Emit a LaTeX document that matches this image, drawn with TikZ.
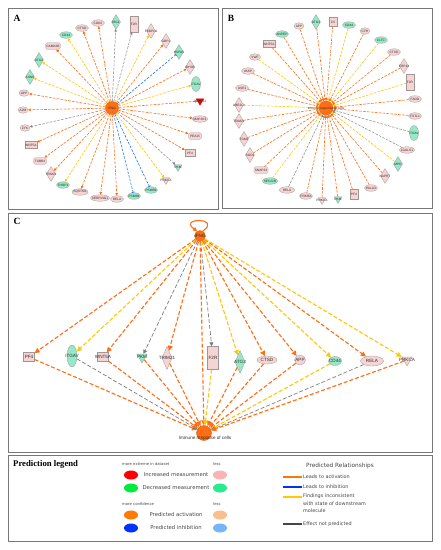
\documentclass[tikz,border=0pt]{standalone}
\usepackage{fontspec}
\setmainfont{Liberation Serif}
\newfontfamily\labf{Liberation Sans}
\newfontfamily\legf{DejaVu Sans}
\usetikzlibrary{shapes.geometric,arrows.meta}
\definecolor{pkf}{RGB}{247,212,212}
\definecolor{grf}{RGB}{150,232,198}
\definecolor{nbd}{RGB}{160,150,150}
\definecolor{orc}{RGB}{255,110,20}
\definecolor{yec}{RGB}{255,200,0}
\definecolor{blc}{RGB}{30,120,240}
\definecolor{gyc}{RGB}{125,125,125}
\definecolor{txc}{RGB}{45,45,45}
\definecolor{boxc}{RGB}{120,120,120}
\definecolor{lgred}{RGB}{255,0,0}
\definecolor{lggreen}{RGB}{0,235,60}
\definecolor{lgpink}{RGB}{250,180,180}
\definecolor{lgmint}{RGB}{40,235,140}
\definecolor{lgor}{RGB}{255,120,0}
\definecolor{lgblue}{RGB}{0,50,250}
\definecolor{lglor}{RGB}{252,190,140}
\definecolor{lglbl}{RGB}{120,180,250}
\definecolor{lgdk}{RGB}{70,70,70}
\tikzset{
 lb/.style={font=\labf\fontsize{3.2}{3.4}\selectfont, text=txc, inner sep=0pt},
 L/.style={label={[lb]center:#1}},
 nd/.style={draw=nbd, line width=0.3pt, inner sep=0pt},
 pk/.style={fill=pkf}, gr/.style={fill=grf},
 el/.style={nd, ellipse, minimum width=13, minimum height=6.5},
 tel/.style={nd, ellipse, minimum width=9, minimum height=15},
 dm/.style={nd, diamond, minimum width=9, minimum height=15},
 rc/.style={nd, rectangle, minimum width=8, minimum height=16},
 sq/.style={nd, rectangle, minimum width=10, minimum height=7},
 rr/.style={nd, rectangle, rounded corners=1.5pt, minimum width=13, minimum height=6.5},
 kn/.style={nd, regular polygon, regular polygon sides=3, shape border rotate=180, minimum size=9},
 ph/.style={nd, regular polygon, regular polygon sides=3, shape border rotate=180, minimum size=8.5, fill=lgred, draw=red!70!black},
 ctr/.style={circle, fill=orc, draw=orc!85!black, line width=0.4pt, inner sep=0pt},
 ed/.style={dash pattern=on 2.6pt off 1.3pt, line width=0.6pt},
 eo/.style={ed, draw=orc, -{Triangle[length=2.6pt,width=2.6pt]}},
 ey/.style={ed, draw=yec, -{Triangle[length=2.6pt,width=2.6pt]}},
 eg/.style={ed, draw=gyc, line width=0.45pt, -{Triangle[length=2.4pt,width=2.4pt]}},
 eb/.style={ed, draw=blc, -{Bar[width=3pt,line width=0.7pt]}},
 cd/.style={dash pattern=on 4pt off 2pt, line width=1.1pt},
 co/.style={cd, draw=orc, -{Triangle[length=5pt,width=5pt]}},
 cy/.style={cd, draw=yec, -{Triangle[length=5pt,width=5pt]}},
 cg/.style={cd, draw=gyc, line width=0.7pt, -{Triangle[length=4pt,width=4pt]}},
 panel/.style={draw=boxc, line width=1pt},
 plet/.style={font=\bfseries\fontsize{9.5}{10}\selectfont, inner sep=0pt},
 lgt/.style={font=\legf\fontsize{5.3}{6}\selectfont, text=lgdk, inner sep=0pt},
 lgs/.style={font=\legf\fontsize{3.8}{4.2}\selectfont, text=lgdk, inner sep=0pt},
 lge/.style={ellipse, minimum width=14, minimum height=9, inner sep=0pt},
 lgl/.style={line width=1.4pt},
}
\begin{document}
\begin{tikzpicture}[x=1pt,y=-1pt]
\useasboundingbox[fill=white] (0,0) rectangle (440,550);
% panels
\draw[panel] (8,8) rectangle (218,209);
\draw[panel] (222,8) rectangle (432,208);
\draw[panel] (8,213) rectangle (432,452);
\draw[panel] (8,455) rectangle (432,541);
\node[plet] (pa) at (17,18) {A};
\node[plet] (pb) at (231,18) {B};
\node[plet] (pc) at (17,221) {C};

% ---------------- Panel A ----------------
\node[dm,gr,L=IRG1] (a01) at (116,22) {};
\node[rc,pk,L=F2R] (a02) at (134,24) {};
\node[dm,pk,L=FKBP1A] (a03) at (151,31) {};
\node[dm,pk,L=GBP1] (a04) at (166,41) {};
\node[dm,gr,L=HSPA5] (a05) at (179,52) {};
\node[dm,pk,L=IDH3B] (a06) at (190,67) {};
\node[tel,gr,L=ITGAV] (a07) at (196,84) {};
\node[ph,L=ABHD11] (a08) at (200,101) {};
\node[el,pk,L=MAP2K3,minimum width=15] (a09) at (200,119) {};
\node[rr,pk,L=PEA15] (a10) at (195,136) {};
\node[sq,pk,L=PF4] (a11) at (190,153) {};
\node[kn,gr,L=PKM] (a12) at (178,167) {};
\node[kn,pk,L=PRKCA] (a13) at (166,180) {};
\node[el,gr,L=PSMB9] (a14) at (151,190) {};
\node[el,gr,L=PSMB8] (a15) at (134,196) {};
\node[el,pk,L=RELA] (a16) at (117,199) {};
\node[el,pk,L=SERPING1,minimum width=19] (a17) at (100,198) {};
\node[el,pk,L=SQSTM1,minimum width=16] (a18) at (80,192) {};
\node[el,gr,L=THOP1] (a19) at (63,185) {};
\node[dm,pk,L=TRIM21] (a20) at (51,174) {};
\node[rr,pk,L=TUBB3] (a21) at (40,161) {};
\node[sq,pk,L=WNT5A,minimum width=12] (a22) at (31,145) {};
\node[el,pk,L=ZYX,minimum width=10] (a23) at (25,128) {};
\node[el,pk,L=A2M,minimum width=10] (a24) at (23,110) {};
\node[el,pk,L=APP,minimum width=10] (a25) at (24,93) {};
\node[dm,gr,L=ASNS] (a26) at (30,77) {};
\node[dm,gr,L=ATG3] (a27) at (39,60) {};
\node[rr,pk,L=CAMK2B,minimum width=15] (a28) at (53,46) {};
\node[el,gr,L=CD44] (a29) at (66,35) {};
\node[el,pk,L=CTSD] (a30) at (82,28) {};
\node[el,pk,L=CDK2] (a31) at (98,23) {};
\node[ctr,minimum size=13,L=IFNG] (ac) at (112,108) {};
\draw[eg] (ac) -- (a01);
\draw[eg] (ac) -- (a02);
\draw[ey] (ac) -- (a03);
\draw[eo] (ac) -- (a04);
\draw[eb] (ac) -- (a05);
\draw[eo] (ac) -- (a06);
\draw[ey] (ac) -- (a07);
\draw[eo] (ac) -- (a08);
\draw[eo] (ac) -- (a09);
\draw[eo] (ac) -- (a10);
\draw[eo] (ac) -- (a11);
\draw[eg] (ac) -- (a12);
\draw[ey] (ac) -- (a13);
\draw[eb] (ac) -- (a14);
\draw[eb] (ac) -- (a15);
\draw[eo] (ac) -- (a16);
\draw[eo] (ac) -- (a17);
\draw[eo] (ac) -- (a18);
\draw[ey] (ac) -- (a19);
\draw[eo] (ac) -- (a20);
\draw[eo] (ac) -- (a21);
\draw[eo] (ac) -- (a22);
\draw[eg] (ac) -- (a23);
\draw[eo] (ac) -- (a24);
\draw[eo] (ac) -- (a25);
\draw[ey] (ac) -- (a26);
\draw[ey] (ac) -- (a27);
\draw[eo] (ac) -- (a28);
\draw[ey] (ac) -- (a29);
\draw[eo] (ac) -- (a30);
\draw[eo] (ac) -- (a31);

% ---------------- Panel B ----------------
\node[dm,gr,L=ATG3] (b01) at (316,22) {};
\node[sq,pk,L=C5,minimum width=8,minimum height=9] (b02) at (333,22) {};
\node[el,gr,L=CD44] (b03) at (349,25) {};
\node[el,pk,L=CFH,minimum width=10] (b04) at (365,31) {};
\node[el,gr,L=CLTC] (b05) at (381,40) {};
\node[el,pk,L=CTSD] (b06) at (394,52) {};
\node[dm,pk,L=ERP44] (b07) at (404,66) {};
\node[rc,pk,L=F2R] (b08) at (410,82) {};
\node[el,pk,L=FADD] (b09) at (415,99) {};
\node[el,pk,L=FSTL1] (b10) at (415,116) {};
\node[tel,gr,L=ITGAV] (b11) at (414,133) {};
\node[el,pk,L=LGALS1,minimum width=15] (b12) at (407,150) {};
\node[dm,gr,L=MPO] (b13) at (398,164) {};
\node[dm,pk,L=NAPRT] (b14) at (385,176) {};
\node[el,pk,L=PALLD] (b15) at (371,188) {};
\node[sq,pk,L=PF4,minimum width=8,minimum height=10] (b16) at (354,194) {};
\node[kn,gr,L=PKM] (b17) at (338,199) {};
\node[kn,pk,L=PRKCA] (b18) at (322,200) {};
\node[el,pk,L=PRKRA] (b19) at (306,196) {};
\node[el,pk,L=RELA,minimum width=15] (b20) at (287,190) {};
\node[el,gr,L=SEC22B,minimum width=15] (b21) at (270,181) {};
\node[rr,pk,L=SNAP23,minimum width=14] (b22) at (261,170) {};
\node[dm,pk,L=SOD1] (b23) at (250,155) {};
\node[dm,pk,L=TGM2] (b24) at (244,139) {};
\node[dm,pk,L=TRIM21] (b25) at (239,121) {};
\node[dm,pk,L=UBE2L3] (b26) at (239,105) {};
\node[el,pk,L=USE1] (b27) at (242,88) {};
\node[el,pk,L=VASP] (b28) at (248,71) {};
\node[el,pk,L=VWF,minimum width=11] (b29) at (255,57) {};
\node[sq,pk,L=WNT5A,minimum width=12] (b30) at (269,44) {};
\node[el,gr,L=ANPEP] (b31) at (282,34) {};
\node[el,pk,L=APP,minimum width=10] (b32) at (299,26) {};
\node[ctr,minimum size=14] (bc) at (326,108) {};
\draw[eo] (b01) -- (bc);
\draw[eo] (b02) -- (bc);
\draw[ey] (b03) -- (bc);
\draw[eo] (b04) -- (bc);
\draw[ey] (b05) -- (bc);
\draw[eo] (b06) -- (bc);
\draw[eo] (b07) -- (bc);
\draw[ey] (b08) -- (bc);
\draw[eo] (b09) -- (bc);
\draw[eo] (b10) -- (bc);
\draw[eg] (b11) -- (bc);
\draw[eg] (b12) -- (bc);
\draw[ey] (b13) -- (bc);
\draw[eo] (b14) -- (bc);
\draw[eo] (b15) -- (bc);
\draw[eo] (b16) -- (bc);
\draw[eo] (b17) -- (bc);
\draw[eo] (b18) -- (bc);
\draw[eo] (b19) -- (bc);
\draw[eg] (b20) -- (bc);
\draw[ey] (b21) -- (bc);
\draw[eo] (b22) -- (bc);
\draw[eo] (b23) -- (bc);
\draw[eo] (b24) -- (bc);
\draw[eo] (b25) -- (bc);
\draw[ey] (b26) -- (bc);
\draw[eo] (b27) -- (bc);
\draw[eo] (b28) -- (bc);
\draw[ey] (b29) -- (bc);
\draw[eo] (b30) -- (bc);
\draw[eo] (b31) -- (bc);
\draw[eo] (b32) -- (bc);
\node[lb] (btxt) at (326,109) {Immune response of cells};

% ---------------- Panel C ----------------
\begin{scope}[lb/.style={font=\labf\fontsize{4.6}{5}\selectfont, text=txc, inner sep=0pt}]
\node[ctr,minimum size=11,L=IFNG] (cif) at (200,236) {};
\node[ctr,minimum size=15] (cir) at (204,433) {};
\node[nd,pk,rectangle,minimum width=11,minimum height=9,L=PF4] (c01) at (29,357) {};
\node[nd,gr,ellipse,minimum width=10,minimum height=22,L=ITGAV] (c02) at (72,356) {};
\node[nd,pk,rectangle,minimum width=11,minimum height=9,L=WNT5A] (c03) at (103,357) {};
\node[nd,gr,regular polygon,regular polygon sides=3,shape border rotate=180,minimum size=12,L=PKM] (c04) at (142,357) {};
\node[nd,pk,diamond,minimum width=10,minimum height=23,L=TRIM21] (c05) at (167,358) {};
\node[nd,pk,rectangle,minimum width=11,minimum height=23,L=F2R] (c06) at (213,358) {};
\node[nd,gr,diamond,minimum width=10,minimum height=23,L=ATG3] (c07) at (240,362) {};
\node[nd,pk,ellipse,minimum width=20,minimum height=8,L=CTSD] (c08) at (267,360) {};
\node[nd,pk,ellipse,minimum width=11,minimum height=10,L=APP] (c09) at (300,360) {};
\node[nd,gr,ellipse,minimum width=13,minimum height=9,L=CD44] (c10) at (335,361) {};
\node[nd,pk,ellipse,minimum width=23,minimum height=10,L=RELA] (c11) at (372,361) {};
\node[nd,pk,regular polygon,regular polygon sides=3,shape border rotate=180,minimum size=12,L=PRKCA] (c12) at (407,360) {};
\node[lb,fill=none] (cirt) at (205,438.5) {Immune response of cells};
\end{scope}
\draw[orc,line width=1.1pt,-{Triangle[length=4pt,width=4pt]}] (cif.60) .. controls +(-35:24) and +(-145:24) .. (cif.120);
\draw[co] (cif) -- (c01);
\draw[cy] (cif) -- (c02);
\draw[co] (cif) -- (c03);
\draw[cg] (cif) -- (c04);
\draw[co] (cif) -- (c05);
\draw[cg] (cif) -- (c06);
\draw[cy] (cif) -- (c07);
\draw[co] (cif) -- (c08);
\draw[co] (cif) -- (c09);
\draw[cy] (cif) -- (c10);
\draw[co] (cif) -- (c11);
\draw[cy] (cif) -- (c12);
\draw[co] (cif) -- (cir);
\draw[co] (c01) -- (cir);
\draw[cg] (c02) -- (cir);
\draw[co] (c03) -- (cir);
\draw[co] (c04) -- (cir);
\draw[co] (c05) -- (cir);
\draw[cy] (c06) -- (cir);
\draw[co] (c07) -- (cir);
\draw[co] (c08) -- (cir);
\draw[co] (c09) -- (cir);
\draw[cy] (c10) -- (cir);
\draw[cg] (c11) -- (cir);
\draw[co] (c12) -- (cir);

% ---------------- Legend ----------------
\node[anchor=west,font=\bfseries\fontsize{8.7}{9}\selectfont,inner sep=0pt] (lt) at (13,464) {Prediction legend};
\node[lgs,anchor=west] (lm1) at (122,464) {more extreme in dataset};
\node[lgs,anchor=west] (ll1) at (213,464) {less};
\node[lge,fill=lgred] (e1) at (131,475) {};
\node[lge,fill=lgpink] (e1b) at (220,475) {};
\node[lgt] (t1) at (176,475) {Increased measurement};
\node[lge,fill=lggreen] (e2) at (131,488) {};
\node[lge,fill=lgmint] (e2b) at (220,488) {};
\node[lgt] (t2) at (176,488) {Decreased measurement};
\node[lgs,anchor=west] (lm2) at (122,504) {more confidence};
\node[lgs,anchor=west] (ll2) at (213,504) {less};
\node[lge,fill=lgor] (e3) at (131,515) {};
\node[lge,fill=lglor] (e3b) at (220,515) {};
\node[lgt] (t3) at (176,515) {Predicted activation};
\node[lge,fill=lgblue] (e4) at (131,528) {};
\node[lge,fill=lglbl] (e4b) at (220,528) {};
\node[lgt] (t4) at (176,528) {Predicted inhibition};
\node[lgt,font=\legf\fontsize{5.8}{6.5}\selectfont] (rt) at (340,466) {Predicted Relationships};
\coordinate (r1a) at (283,477); \coordinate (r1b) at (302,477);
\coordinate (r2a) at (283,487); \coordinate (r2b) at (302,487);
\coordinate (r3a) at (283,497); \coordinate (r3b) at (302,497);
\coordinate (r4a) at (283,524); \coordinate (r4b) at (302,524);
\draw[lgl,draw=lgor] (r1a) -- (r1b);
\draw[lgl,draw=lgblue] (r2a) -- (r2b);
\draw[lgl,draw=yec] (r3a) -- (r3b);
\draw[lgl,draw=lgdk] (r4a) -- (r4b);
\node[lgt,anchor=west,font=\legf\fontsize{4.9}{5.5}\selectfont] (rl1) at (303,477) {Leads to activation};
\node[lgt,anchor=west,font=\legf\fontsize{4.9}{5.5}\selectfont] (rl2) at (303,487) {Leads to inhibition};
\node[lgt,anchor=north west,align=left,font=\legf\fontsize{4.9}{7.4}\selectfont] (rl3) at (303,494) {Findings inconsistent\\with state of downstream\\molecule};
\node[lgt,anchor=west,font=\legf\fontsize{4.9}{5.5}\selectfont] (rl4) at (303,524) {Effect not predicted};
\end{tikzpicture}
\end{document}
